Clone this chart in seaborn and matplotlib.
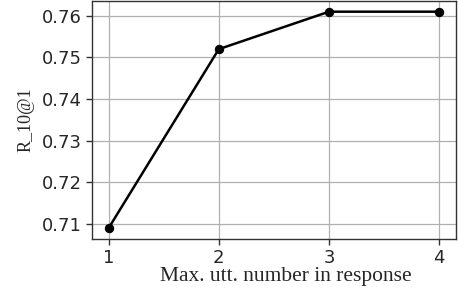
import matplotlib
matplotlib.use("Agg")
import matplotlib.pyplot as plt
import seaborn as sns
import pandas as pd

max_utt = [1, 2, 3, 4]
r10_at_1 = [0.709, 0.752, 0.761, 0.761]
x_label = "Max. utt. number in response"
y_label = "R_10@1"

sns.set_style("ticks")
plt.rcParams['font.family'] = ['DejaVu Sans']

df = pd.DataFrame({"x": max_utt, "y": r10_at_1})
fig = plt.figure(figsize=(4.58, 2.90), dpi=100)
ax = fig.add_axes([0.201, 0.176, 0.794, 0.821])
sns.lineplot(data=df, x="x", y="y", ax=ax, color="black", marker="o",
             markersize=6, linewidth=1.8, markeredgecolor="black")
ax.set_xticks(max_utt)
ax.set_yticks([0.71, 0.72, 0.73, 0.74, 0.75, 0.76])
ax.tick_params(labelsize=13, length=4, width=1, color="#333333")
ax.grid(True, color="#b0b0b0", linewidth=0.9)
for s in ax.spines.values():
    s.set_color("#333333")
    s.set_linewidth(1.0)
ax.set_xlabel(x_label, family="Liberation Serif", fontsize=15.5, labelpad=0)
ax.xaxis.label.set_x(0.533)
ax.set_ylabel(y_label, family="Liberation Serif", fontsize=13, labelpad=5)
fig.savefig("out.png", dpi=100)
